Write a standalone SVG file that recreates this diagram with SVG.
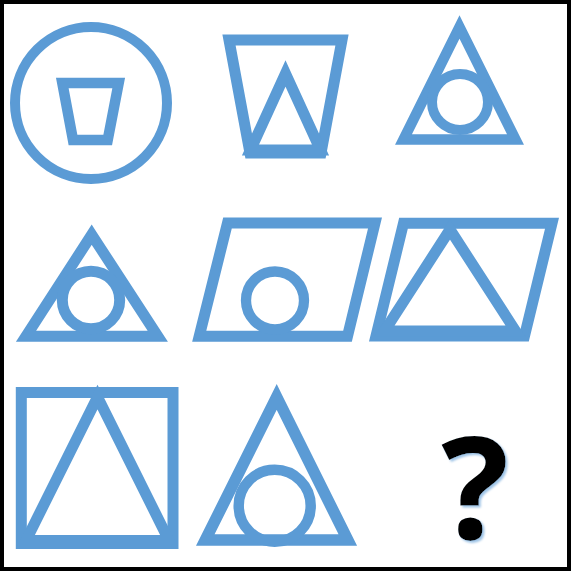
<svg xmlns="http://www.w3.org/2000/svg" width="571" height="585" viewBox="0 0 571 585">
<style>
.s{fill:none;stroke:#5B9BD5;stroke-width:11;stroke-linejoin:miter;stroke-miterlimit:10}
.q{font-family:"Open Sans","Noto Sans","DejaVu Sans",sans-serif;font-weight:700;font-size:142px;text-anchor:middle}
</style>
<defs>
<filter id="sh" x="-30%" y="-30%" width="160%" height="160%">
<feGaussianBlur in="SourceAlpha" stdDeviation="1"/>
<feOffset dx="2" dy="2" result="o"/>
<feFlood flood-color="#9DC3E6"/>
<feComposite in2="o" operator="in"/>
<feMerge><feMergeNode/><feMergeNode in="SourceGraphic"/></feMerge>
</filter>
</defs>
<rect x="0" y="0" width="571" height="585" fill="#fff"/>
<rect x="2" y="2" width="567" height="567" fill="none" stroke="#000" stroke-width="4"/>
<g id="fig1">
<circle class="s" cx="91" cy="103" r="76" style="stroke-width:10"/>
<polygon class="s" points="62.3,83 118.7,83 107.7,140 73,140" style="stroke-width:10.5"/>
</g>
<g id="fig2">
<polygon class="s" points="229,40 342,40 321,153 250,153"/>
<polygon class="s" points="285.5,73.5 320.5,150 250.5,150"/>
</g>
<g id="fig3">
<polygon class="s" points="459.5,27 515.5,139.5 403.5,139.5" style="stroke-width:10.5"/>
<circle class="s" cx="460" cy="102" r="28" style="stroke-width:10"/>
</g>
<g id="fig4">
<polygon class="s" points="91.7,234.7 157.8,336.3 26,336.3"/>
<circle class="s" cx="91" cy="300" r="28.7"/>
</g>
<g id="fig5">
<polygon class="s" points="227.5,223 375,223 347.5,336.3 199.2,336.3"/>
<circle class="s" cx="275" cy="300.5" r="29" style="stroke-width:10.3"/>
</g>
<g id="fig6">
<polygon class="s" points="403.5,223.3 552,223.3 524.5,336 376,336"/>
<polygon class="s" points="450,229.5 515.5,331 384.5,331"/>
</g>
<g id="fig7">
<rect class="s" x="21.3" y="392.5" width="151.7" height="151"/>
<polygon class="s" points="97.5,397 169,540.5 26,540.5"/>
</g>
<g id="fig8">
<polygon class="s" points="276.7,397 347.8,540 205.3,540" style="stroke-width:11.5"/>
<circle class="s" cx="274.7" cy="505.8" r="36" style="stroke-width:10.5"/>
</g>
<g id="question">
<text class="q" x="475" y="539" fill="#000" filter="url(#sh)">?</text>
</g>
</svg>
